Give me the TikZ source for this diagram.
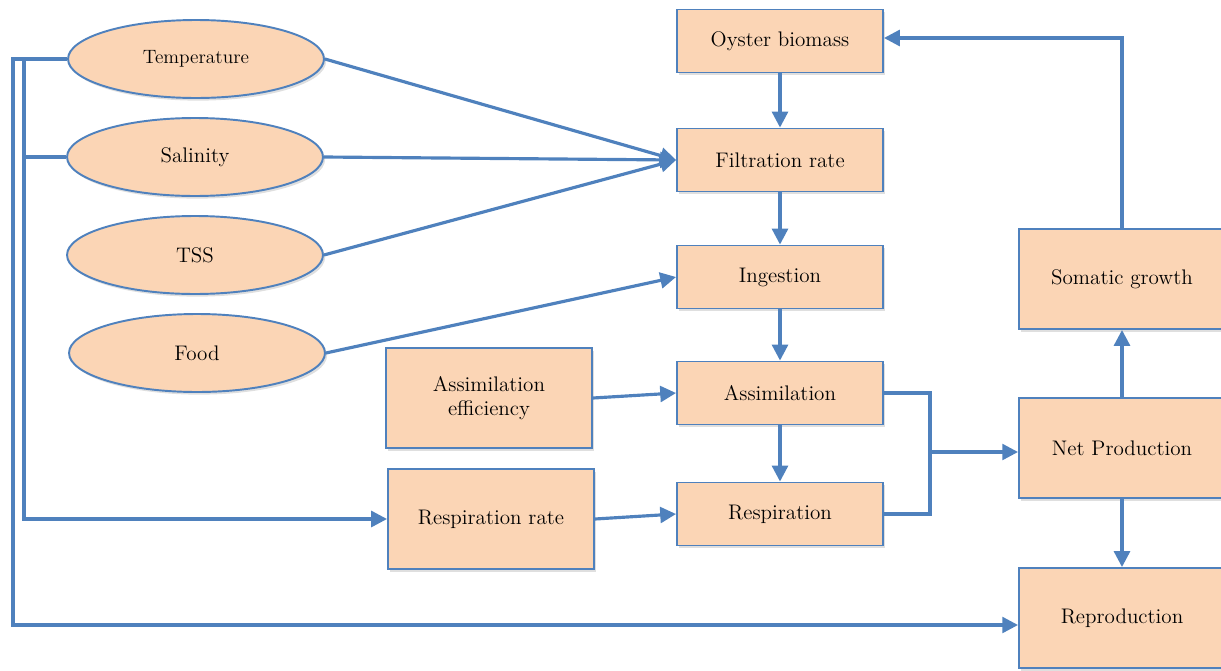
\documentclass[tikz,border=0pt]{standalone}
\usepackage{tikz}
\usepackage{xcolor}
\usetikzlibrary{arrows.meta,shadows,shapes.geometric}
\definecolor{boxfill}{HTML}{FBD5B5}
\definecolor{boxline}{HTML}{4F81BD}

\begin{document}
\begin{tikzpicture}[
            x = 0.02cm, y = -0.02cm,
            every node/.style = {draw = boxline, fill = boxfill, line width = 1.1pt, align = center,
                                 font = \fontsize{12}{14}\selectfont,
                                 drop shadow = {opacity = 0.25, shadow xshift = 1.2pt, shadow yshift = -1.5pt}},
            box/.style = {rectangle, minimum width = 4.12cm, minimum height = 1.26cm},
            tallbox/.style = {rectangle, minimum width = 4.12cm, minimum height = 2cm},
            oval/.style = {ellipse, minimum width = 5.12cm, minimum height = 1.56cm},
            conn/.style = {draw = boxline, line width = 1.8pt},
            arrow/.style = {conn, -{Triangle[length = 9pt, width = 9pt]}}
        ]
        \useasboundingbox (0,0) rectangle (1221,670);
        % drivers
        \node[oval, font = \fontsize{11}{13}\selectfont] (temp) at (196,59) {Temperature};
        \node[oval] (sal)  at (195,157) {Salinity};
        \node[oval] (tss)  at (195,255) {TSS};
        \node[oval] (food) at (197,353) {Food};
        % central chain
        \node[box] (biomass) at (780,41)  {Oyster biomass};
        \node[box] (filt)    at (780,160) {Filtration rate};
        \node[box] (ing)     at (780,277) {Ingestion};
        \node[box] (assim)   at (780,393) {Assimilation};
        \node[box] (resp)    at (780,514) {Respiration};
        \node[tallbox] (aeff)  at (489,398) {Assimilation\\efficiency};
        \node[tallbox] (rrate) at (491,519) {Respiration rate};
        % production side
        \node[tallbox] (somatic) at (1122,279) {Somatic growth};
        \node[tallbox] (netprod) at (1122,448) {Net Production};
        \node[tallbox] (repro)   at (1122,618) {Reproduction};
        % helper points
        \coordinate (outer) at (13,625);
        \coordinate (inner) at (24,59);
        \coordinate (brk)   at (930,452);
        \coordinate (top)   at (1122,38);

        \draw[arrow] (temp.east) -- (filt.west);
        \draw[arrow] (sal.east)  -- (filt.west);
        \draw[arrow] (tss.east)  -- (filt.west);
        \draw[arrow] (food.east) -- (ing.west);
        \draw[arrow] (biomass) -- (filt);
        \draw[arrow] (filt) -- (ing);
        \draw[arrow] (ing) -- (assim);
        \draw[arrow] (assim) -- (resp);
        \draw[arrow] (aeff.east)  -- (assim.west);
        \draw[arrow] (rrate.east) -- (resp.west);
        \draw[conn] (assim.east) -| (brk) |- (resp.east);
        \draw[arrow] (brk) -- (netprod.west |- brk);
        \draw[arrow] (netprod) -- (somatic);
        \draw[arrow] (netprod) -- (repro);
        \draw[arrow] (somatic.north) -- (top) -- (biomass.east |- top);
        % temperature feeds
        \draw[arrow] (temp.west) -| (outer) -- (repro.west |- outer);
        \draw[arrow] (inner) |- (rrate.west);
        \draw[conn] (sal.west) -- (sal.west -| inner);
    \end{tikzpicture}
\end{document}
